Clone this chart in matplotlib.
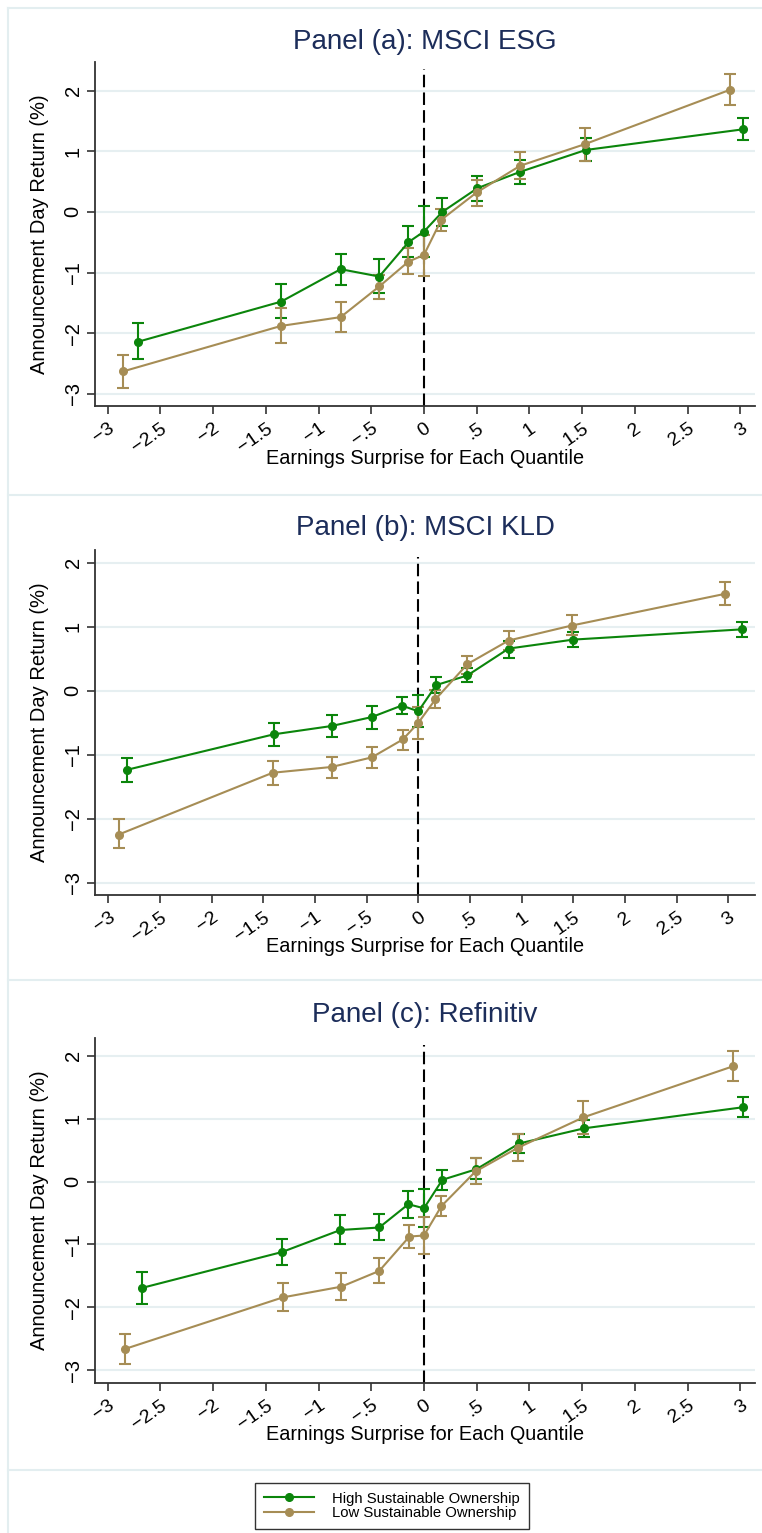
import matplotlib.pyplot as plt
from matplotlib.lines import Line2D
import numpy as np

plt.rcParams['font.family'] = ['Liberation Sans', 'DejaVu Sans']

# Panel (a): MSCI ESG
a_high_x = [-2.71, -1.355, -0.79, -0.424, -0.147, 0.0, 0.175, 0.507, 0.913, 1.535, 3.025]
a_high_y = [-2.14, -1.48, -0.945, -1.066, -0.50, -0.325, 0.0, 0.39, 0.66, 1.02, 1.36]
a_high_lo = [-2.43, -1.75, -1.20, -1.34, -0.75, -0.75, -0.225, 0.18, 0.46, 0.83, 1.19]
a_high_hi = [-1.83, -1.19, -0.70, -0.78, -0.225, 0.09, 0.225, 0.59, 0.86, 1.21, 1.55]
a_low_x = [-2.854, -1.355, -0.79, -0.424, -0.147, 0.0, 0.165, 0.50, 0.913, 1.525, 2.90]
a_low_y = [-2.63, -1.88, -1.735, -1.23, -0.82, -0.71, -0.13, 0.32, 0.76, 1.115, 2.01]
a_low_lo = [-2.90, -2.16, -1.98, -1.44, -1.02, -1.05, -0.31, 0.10, 0.54, 0.84, 1.76]
a_low_hi = [-2.36, -1.59, -1.49, -1.04, -0.60, -0.38, 0.04, 0.53, 0.98, 1.38, 2.27]

# Panel (b): MSCI KLD
b_high_x = [-2.82, -1.40, -0.84, -0.45, -0.16, 0.0, 0.174, 0.475, 0.875, 1.50, 3.13]
b_high_y = [-1.234, -0.68, -0.55, -0.41, -0.23, -0.32, 0.09, 0.24, 0.66, 0.80, 0.96]
b_high_lo = [-1.42, -0.865, -0.72, -0.60, -0.36, -0.56, -0.03, 0.135, 0.515, 0.68, 0.84]
b_high_hi = [-1.05, -0.50, -0.38, -0.23, -0.09, -0.06, 0.21, 0.35, 0.78, 0.92, 1.08]
b_low_x = [-2.90, -1.41, -0.84, -0.45, -0.15, 0.0, 0.165, 0.475, 0.875, 1.486, 2.97]
b_low_y = [-2.245, -1.28, -1.19, -1.04, -0.76, -0.50, -0.135, 0.417, 0.786, 1.02, 1.515]
b_low_lo = [-2.46, -1.47, -1.36, -1.20, -0.92, -0.745, -0.276, 0.27, 0.635, 0.865, 1.34]
b_low_hi = [-2.01, -1.09, -1.04, -0.885, -0.61, -0.25, 0.01, 0.55, 0.93, 1.18, 1.70]

# Panel (c): Refinitiv
c_high_x = [-2.675, -1.347, -0.793, -0.424, -0.148, 0.0, 0.175, 0.498, 0.904, 1.522, 3.026]
c_high_y = [-1.69, -1.12, -0.77, -0.73, -0.36, -0.425, 0.028, 0.196, 0.605, 0.846, 1.18]
c_high_lo = [-1.94, -1.32, -1.00, -0.93, -0.577, -0.73, -0.13, 0.034, 0.45, 0.70, 1.02]
c_high_hi = [-1.43, -0.91, -0.53, -0.515, -0.146, -0.12, 0.18, 0.37, 0.75, 0.98, 1.34]
c_low_x = [-2.837, -1.338, -0.784, -0.424, -0.138, 0.0, 0.166, 0.489, 0.895, 1.513, 2.93]
c_low_y = [-2.66, -1.84, -1.67, -1.42, -0.874, -0.857, -0.39, 0.16, 0.54, 1.02, 1.83]
c_low_lo = [-2.90, -2.05, -1.88, -1.61, -1.06, -1.15, -0.54, -0.034, 0.33, 0.756, 1.59]
c_low_hi = [-2.415, -1.61, -1.445, -1.21, -0.69, -0.56, -0.235, 0.375, 0.756, 1.28, 2.08]

titles = ["Panel (a): MSCI ESG", "Panel (b): MSCI KLD", "Panel (c): Refinitiv"]
series_labels = ["High Sustainable Ownership", "Low Sustainable Ownership"]
xtick_vals = [-3, -2.5, -2, -1.5, -1, -0.5, 0, 0.5, 1, 1.5, 2, 2.5, 3]
xtick_labels = ["\u22123", "\u22122.5", "\u22122", "\u22121.5", "\u22121", "\u2212.5",
                "0", ".5", "1", "1.5", "2", "2.5", "3"]
ytick_vals = [-3, -2, -1, 0, 1, 2]
ytick_labels = ["\u22123", "\u22122", "\u22121", "0", "1", "2"]

GREEN = '#0b850b'
TAN = '#a68d55'
W, H = 762, 1533

panels = [
    (titles[0], (a_high_x, a_high_y, a_high_lo, a_high_hi), (a_low_x, a_low_y, a_low_lo, a_low_hi)),
    (titles[1], (b_high_x, b_high_y, b_high_lo, b_high_hi), (b_low_x, b_low_y, b_low_lo, b_low_hi)),
    (titles[2], (c_high_x, c_high_y, c_high_lo, c_high_hi), (c_low_x, c_low_y, c_low_lo, c_low_hi)),
]
# pixel layout: (axes top, axes bottom, title y, xlabel y, xlim, ylim)
layout = [
    (62, 406, 42, 458, (-3.12, 3.14), (-3.2, 2.47)),
    (550, 895, 528, 947, (-3.13, 3.26), (-3.19, 2.2)),
    (1038, 1383, 1015, 1435, (-3.12, 3.14), (-3.2, 2.28)),
]

fig = plt.figure(figsize=(W / 100, H / 100), dpi=100)

# faint graph region borders
for yy in [8, 495, 980, 1470]:
    fig.add_artist(Line2D([8 / W, 1], [1 - yy / H] * 2, transform=fig.transFigure,
                          color='#e3eef0', lw=1.5))
fig.add_artist(Line2D([8 / W] * 2, [1 - 8 / H, 0], transform=fig.transFigure,
                      color='#e3eef0', lw=1.5))

for (title, high, low), (top, bot, ty, xly, xlim, ylim) in zip(panels, layout):
    ax = fig.add_axes([95 / W, 1 - bot / H, (755 - 95) / W, (bot - top) / H])
    for (x, y, lo, hi), col in [(high, GREEN), (low, TAN)]:
        y = np.array(y)
        ax.errorbar(x, y, yerr=[y - np.array(lo), np.array(hi) - y], fmt='none',
                    ecolor=col, elinewidth=1.5, capsize=4.5, capthick=1.5, zorder=3)
    for (x, y, lo, hi), col in [(high, GREEN), (low, TAN)]:
        ax.plot(x, y, '-o', color=col, lw=1.5, ms=5.5, zorder=4)

    ax.axvline(0, color='black', ls=(0, (6, 2.5)), lw=1.5, ymax=0.98, zorder=2)
    ax.set_xlim(xlim)
    ax.set_ylim(ylim)
    ax.set_xticks(xtick_vals)
    ax.set_xticklabels(xtick_labels, rotation=35, ha='right', va='top',
                       rotation_mode='anchor', fontsize=14)
    ax.set_yticks(ytick_vals)
    ax.set_yticklabels(ytick_labels, rotation=90, va='center', fontsize=14.5)
    ax.tick_params(length=6, width=1.2, color='#333333', pad=3)
    ax.tick_params(axis='x', pad=4)
    ax.yaxis.grid(True, color='#e6eff1', lw=1.5)
    ax.set_axisbelow(True)
    for s in ['top', 'right']:
        ax.spines[s].set_visible(False)
    for s in ['left', 'bottom']:
        ax.spines[s].set_color('#333333')
        ax.spines[s].set_linewidth(1.3)

    fig.text(425 / W, 1 - ty / H, title, ha='center', va='center',
             fontsize=20, color='#1c2d5a')
    fig.text(425 / W, 1 - xly / H, "Earnings Surprise for Each Quantile",
             ha='center', va='center', fontsize=14.3)
    fig.text(40 / W, 1 - ((top + bot) / 2) / H, "Announcement Day Return (%)",
             ha='center', va='center', rotation=90, fontsize=14.5)

handles = [Line2D([], [], color=GREEN, lw=1.5, marker='o', ms=5.5),
           Line2D([], [], color=TAN, lw=1.5, marker='o', ms=5.5)]
leg = fig.legend(handles, series_labels, loc='center',
                 bbox_to_anchor=(392 / W, 1 - 1506 / H), fontsize=10.7,
                 frameon=True, fancybox=False, edgecolor='black',
                 handlelength=3.4, handletextpad=1.2, labelspacing=0.05,
                 borderpad=0.6)
leg.get_frame().set_linewidth(1.0)

fig.savefig('out.png', dpi=100)
